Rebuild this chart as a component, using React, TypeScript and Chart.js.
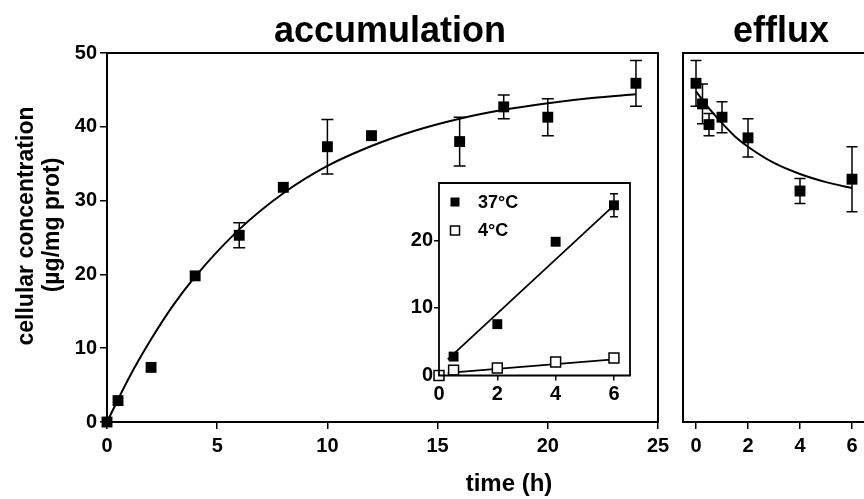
import React, { useEffect, useRef } from 'react';
import { Chart, registerables } from 'chart.js';

Chart.register(...registerables);

const FONT = '"Liberation Sans", Arial, Helvetica, sans-serif';

// ---------- accumulation (main panel) ----------
const accTime = [0, 0.5, 2, 4, 6, 8, 10, 12, 16, 18, 20, 24];
const accConc = [0, 2.9, 7.4, 19.8, 25.3, 31.8, 37.3, 38.8, 38.0, 42.7, 41.3, 45.9];
const accErr = [0, 0, 0, 0, 1.7, 0, 3.7, 0, 3.3, 1.6, 2.5, 3.1];
const accFitTime = [0, 1, 2, 3, 4, 6, 8, 10, 12, 14, 16, 18, 20, 22, 24];
const accFitConc = [0, 6.0, 11.2, 15.8, 19.7, 26.1, 31.0, 34.7, 37.4, 39.5, 41.1, 42.3, 43.2, 43.9, 44.4];
const accXTicks = [0, 5, 10, 15, 20, 25];
const accYTicks = [0, 10, 20, 30, 40, 50];

// ---------- inset (0-6 h, 37°C vs 4°C) ----------
const insetTime = [0, 0.5, 2, 4, 6];
const inset37 = [0, 2.8, 7.6, 19.8, 25.2];
const inset37Err = [0, 0, 0, 0, 1.7];
const inset4 = [0, 0.8, 1.1, 2.0, 2.6];
const insetFitTime = [0.3, 6];
const inset37Fit = [2.4, 25.2];
const inset4Fit = [0.4, 2.4];
const insetXTicks = [0, 2, 4, 6];
const insetYTicks = [0, 10, 20];
const insetLabels = ['37°C', '4°C'];

// ---------- efflux ----------
const effTime = [0, 0.25, 0.5, 1, 2, 4, 6];
const effConc = [45.9, 43.1, 40.3, 41.3, 38.5, 31.3, 32.9];
const effErr = [3.1, 2.7, 1.5, 2.1, 2.6, 1.7, 4.4];
const effFitTime = [0, 0.5, 1, 1.5, 2, 3, 4, 5, 6];
const effFitConc = [44.8, 42.5, 40.5, 38.7, 37.3, 35.1, 33.6, 32.5, 31.7];
const effXTicks = [0, 2, 4, 6];

const pts = (xs: number[], ys: number[]) => xs.map((x, i) => ({ x, y: ys[i] }));

type TextItem = { text: string; x: number; y: number; size: number; rotate?: number; align?: CanvasTextAlign };

const makeTextPlugin = (items: TextItem[]) => ({
  id: 'texts',
  afterDraw(chart: any) {
    const ctx = chart.ctx as CanvasRenderingContext2D;
    items.forEach((it) => {
      ctx.save();
      ctx.font = `bold ${it.size}px ${FONT}`;
      ctx.fillStyle = '#000';
      ctx.textAlign = it.align || 'center';
      ctx.textBaseline = 'alphabetic';
      ctx.translate(it.x, it.y);
      if (it.rotate) ctx.rotate(it.rotate);
      ctx.fillText(it.text, 0, 0);
      ctx.restore();
    });
  },
});

const makeFramePlugin = (sides: string[], lineWidth: number, fillWhite = false) => ({
  id: 'frame',
  beforeDraw(chart: any) {
    if (!fillWhite) return;
    const { ctx, chartArea: a } = chart;
    ctx.save();
    ctx.fillStyle = '#fff';
    ctx.fillRect(a.left, a.top, a.right - a.left, a.bottom - a.top);
    ctx.restore();
  },
  afterDatasetsDraw(chart: any) {
    const { ctx, chartArea: a } = chart;
    ctx.save();
    ctx.strokeStyle = '#000';
    ctx.lineWidth = lineWidth;
    ctx.lineCap = 'square';
    ctx.beginPath();
    if (sides.includes('top')) { ctx.moveTo(a.left, a.top); ctx.lineTo(a.right, a.top); }
    if (sides.includes('right')) { ctx.moveTo(a.right, a.top); ctx.lineTo(a.right, a.bottom); }
    if (sides.includes('bottom')) { ctx.moveTo(a.left, a.bottom); ctx.lineTo(a.right, a.bottom); }
    if (sides.includes('left')) { ctx.moveTo(a.left, a.top); ctx.lineTo(a.left, a.bottom); }
    ctx.stroke();
    ctx.restore();
  },
});

const makeErrorPlugin = (cap: number, lineWidth: number) => ({
  id: 'errorBars',
  beforeDatasetsDraw(chart: any) {
    const ctx = chart.ctx as CanvasRenderingContext2D;
    chart.data.datasets.forEach((ds: any, di: number) => {
      const errs: number[] | undefined = ds.errors;
      if (!errs) return;
      const meta = chart.getDatasetMeta(di);
      const xs = chart.scales[meta.xAxisID];
      const ys = chart.scales[meta.yAxisID];
      ctx.save();
      ctx.strokeStyle = '#000';
      ctx.lineWidth = lineWidth;
      ds.data.forEach((p: any, i: number) => {
        const e = errs[i];
        if (!e) return;
        const x = xs.getPixelForValue(p.x);
        const yt = ys.getPixelForValue(p.y + e);
        const yb = ys.getPixelForValue(p.y - e);
        ctx.beginPath();
        ctx.moveTo(x, yt); ctx.lineTo(x, yb);
        ctx.moveTo(x - cap / 2, yt); ctx.lineTo(x + cap / 2, yt);
        ctx.moveTo(x - cap / 2, yb); ctx.lineTo(x + cap / 2, yb);
        ctx.stroke();
      });
      ctx.restore();
    });
  },
});

const makeInsetLegend = () => ({
  id: 'insetLegend',
  afterDraw(chart: any) {
    const { ctx, chartArea: a } = chart;
    const entries = [
      { label: insetLabels[0], filled: true },
      { label: insetLabels[1], filled: false },
    ];
    entries.forEach((en, i) => {
      const cx = a.left + 16;
      const cy = a.top + 19 + i * 28.5;
      const s = 9;
      ctx.save();
      if (en.filled) {
        ctx.fillStyle = '#000';
        ctx.fillRect(cx - s / 2, cy - s / 2, s, s);
      } else {
        ctx.fillStyle = '#fff';
        ctx.fillRect(cx - s / 2, cy - s / 2, s, s);
        ctx.strokeStyle = '#000';
        ctx.lineWidth = 1.5;
        ctx.strokeRect(cx - s / 2, cy - s / 2, s, s);
      }
      ctx.font = `bold 18px ${FONT}`;
      ctx.fillStyle = '#000';
      ctx.textAlign = 'left';
      ctx.textBaseline = 'middle';
      ctx.fillText(en.label, a.left + 39, cy + 1);
      ctx.restore();
    });
  },
});

const tickFont = (size: number) => ({ family: FONT, size, weight: 'bold' as const });

const fixedTicks = (vals: number[]) => (s: any) => {
  s.ticks = vals.map((v) => ({ value: v }));
};

export default function App() {
  const mainRef = useRef<HTMLCanvasElement>(null);
  const insetRef = useRef<HTMLCanvasElement>(null);
  const effRef = useRef<HTMLCanvasElement>(null);

  useEffect(() => {
    const charts: Chart[] = [];

    // main accumulation chart
    charts.push(
      new Chart(mainRef.current!, {
        type: 'scatter',
        data: {
          datasets: [
            {
              data: pts(accTime, accConc),
              errors: accErr,
              pointStyle: 'rect',
              pointRadius: 7.7,
              backgroundColor: '#000',
              borderWidth: 0,
              clip: false,
            } as any,
            {
              data: pts(accFitTime, accFitConc),
              showLine: true,
              pointRadius: 0,
              borderColor: '#000',
              borderWidth: 2,
              cubicInterpolationMode: 'monotone',
              clip: false,
            } as any,
          ],
        },
        options: {
          responsive: false,
          animation: false,
          events: [],
          layout: { padding: { left: 0, top: 53, right: 22, bottom: 0 } },
          plugins: { legend: { display: false }, tooltip: { enabled: false } },
          scales: {
            x: {
              type: 'linear',
              min: 0,
              max: 25,
              afterBuildTicks: fixedTicks(accXTicks),
              afterFit: (s: any) => { s.height = 77; },
              ticks: { color: '#000', font: tickFont(20), padding: 5, autoSkip: false, maxRotation: 0 },
              grid: { drawOnChartArea: false, drawTicks: true, tickLength: 7, color: '#000', lineWidth: 1.5 },
              border: { display: false },
            },
            y: {
              type: 'linear',
              min: 0,
              max: 50,
              afterBuildTicks: fixedTicks(accYTicks),
              afterFit: (s: any) => { s.width = 107; },
              ticks: { color: '#000', font: tickFont(20), padding: 3, autoSkip: false },
              grid: { drawOnChartArea: false, drawTicks: true, tickLength: 7, color: '#000', lineWidth: 1.5 },
              border: { display: false },
            },
          },
        },
        plugins: [
          makeErrorPlugin(12, 1.5),
          makeFramePlugin(['top', 'right', 'bottom', 'left'], 2),
          makeTextPlugin([
            { text: 'accumulation', x: 390, y: 42, size: 36 },
            { text: 'cellular concentration', x: 33, y: 226, size: 23, rotate: -Math.PI / 2 },
            { text: '(µg/mg prot)', x: 59, y: 225, size: 23, rotate: -Math.PI / 2 },
            { text: 'time (h)', x: 509, y: 491, size: 24 },
          ]),
        ],
      } as any)
    );

    // efflux chart
    charts.push(
      new Chart(effRef.current!, {
        type: 'scatter',
        data: {
          datasets: [
            {
              data: pts(effTime, effConc),
              errors: effErr,
              pointStyle: 'rect',
              pointRadius: 7.7,
              backgroundColor: '#000',
              borderWidth: 0,
              clip: false,
            } as any,
            {
              data: pts(effFitTime, effFitConc),
              showLine: true,
              pointRadius: 0,
              borderColor: '#000',
              borderWidth: 2,
              cubicInterpolationMode: 'monotone',
            } as any,
          ],
        },
        options: {
          responsive: false,
          animation: false,
          events: [],
          layout: { padding: { left: 83, top: 53, right: 22, bottom: 0 } },
          plugins: { legend: { display: false }, tooltip: { enabled: false } },
          scales: {
            x: {
              type: 'linear',
              min: -0.5,
              max: 7,
              afterBuildTicks: fixedTicks(effXTicks),
              afterFit: (s: any) => { s.height = 77; },
              ticks: { color: '#000', font: tickFont(20), padding: 5, autoSkip: false, maxRotation: 0 },
              grid: { drawOnChartArea: false, drawTicks: true, tickLength: 7, color: '#000', lineWidth: 1.5 },
              border: { display: false },
            },
            y: { type: 'linear', min: 0, max: 50, display: false },
          },
        },
        plugins: [
          makeErrorPlugin(11, 1.5),
          makeFramePlugin(['top', 'right', 'bottom', 'left'], 2),
          makeTextPlugin([{ text: 'efflux', x: 181, y: 42, size: 36 }]),
        ],
      } as any)
    );

    // inset chart
    charts.push(
      new Chart(insetRef.current!, {
        type: 'scatter',
        data: {
          datasets: [
            {
              data: pts(insetTime, inset4),
              pointStyle: 'rect',
              pointRadius: 7,
              backgroundColor: '#fff',
              borderColor: '#000',
              borderWidth: 1.5,
              clip: false,
            } as any,
            {
              data: pts(insetTime, inset37),
              errors: inset37Err,
              pointStyle: 'rect',
              pointRadius: 7,
              backgroundColor: '#000',
              borderWidth: 0,
              clip: false,
            } as any,
            {
              data: pts(insetFitTime, inset37Fit),
              showLine: true,
              pointRadius: 0,
              borderColor: '#000',
              borderWidth: 1.8,
            } as any,
            {
              data: pts(insetFitTime, inset4Fit),
              showLine: true,
              pointRadius: 0,
              borderColor: '#000',
              borderWidth: 1.8,
            } as any,
          ],
        },
        options: {
          responsive: false,
          animation: false,
          events: [],
          layout: { padding: { left: 0, top: 15, right: 10, bottom: 0 } },
          plugins: { legend: { display: false }, tooltip: { enabled: false } },
          scales: {
            x: {
              type: 'linear',
              min: 0,
              max: 6.55,
              afterBuildTicks: fixedTicks(insetXTicks),
              afterFit: (s: any) => { s.height = 32.5; },
              ticks: { color: '#000', font: tickFont(20), padding: 2, autoSkip: false, maxRotation: 0 },
              grid: { drawOnChartArea: false, drawTicks: true, tickLength: 5, color: '#000', lineWidth: 1.5 },
              border: { display: false },
            },
            y: {
              type: 'linear',
              min: 0,
              max: 28.5,
              afterBuildTicks: fixedTicks(insetYTicks),
              afterFit: (s: any) => { s.width = 59; },
              ticks: { color: '#000', font: tickFont(20), padding: 1, autoSkip: false },
              grid: { drawOnChartArea: false, drawTicks: true, tickLength: 5, color: '#000', lineWidth: 1.5 },
              border: { display: false },
            },
          },
        },
        plugins: [
          makeErrorPlugin(8, 1.5),
          makeFramePlugin(['top', 'right', 'bottom', 'left'], 1.8, true),
          makeInsetLegend(),
        ],
      } as any)
    );

    return () => charts.forEach((c) => c.destroy());
  }, []);

  return (
    <div
      style={{
        position: 'fixed',
        left: 0,
        top: 0,
        width: 864,
        height: 499,
        overflow: 'hidden',
        background: '#fff',
      }}
    >
      <canvas ref={mainRef} width={680} height={499} style={{ position: 'absolute', left: 0, top: 0 }} />
      <canvas ref={effRef} width={300} height={499} style={{ position: 'absolute', left: 600, top: 0 }} />
      <canvas ref={insetRef} width={260} height={240} style={{ position: 'absolute', left: 380, top: 168 }} />
    </div>
  );
}
